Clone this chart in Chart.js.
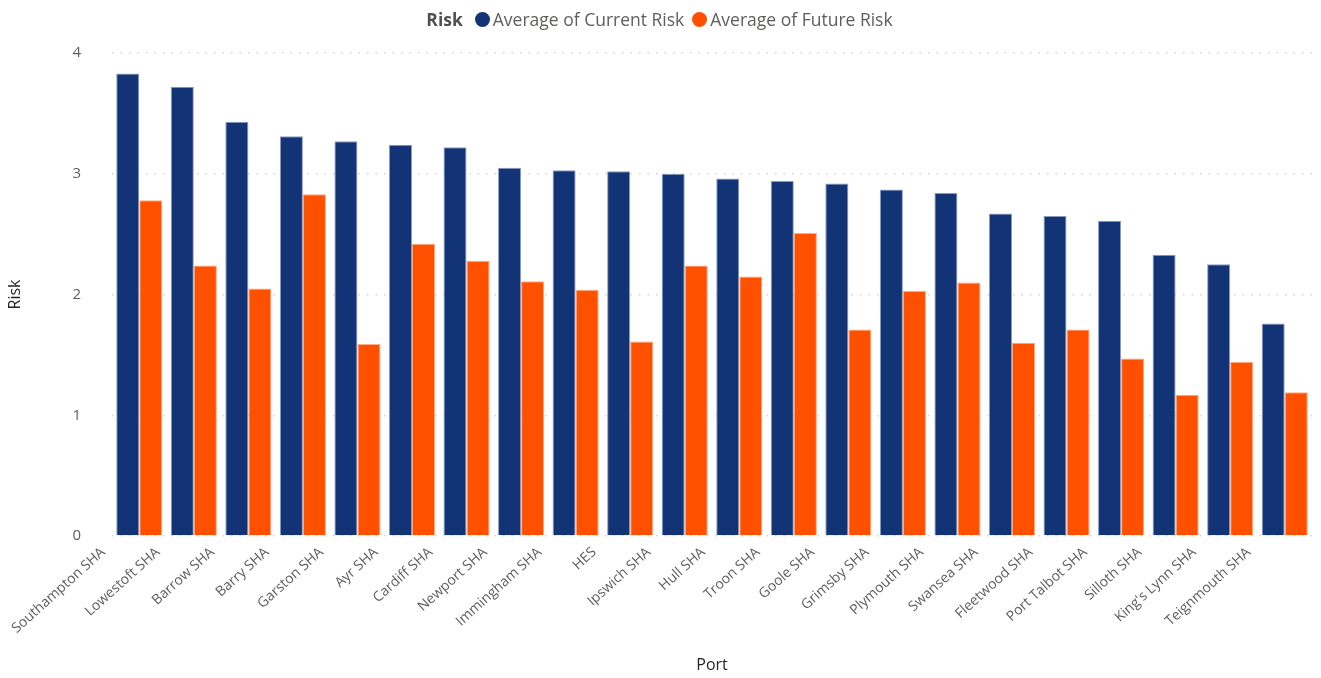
<!DOCTYPE html>
<html>
<head>
<meta charset="utf-8">
<script src="https://cdn.jsdelivr.net/npm/chart.js@4/dist/chart.umd.min.js"></script>
<style>
	html, body { margin: 0; padding: 0; background: #fff; }
	.wrap { position: relative; width: 1321px; height: 678px; }
	#legend-container {
		position: absolute; top: 7px; left: 6px; right: 0;
		display: flex; justify-content: center; align-items: center;
		font-family: 'Open Sans', sans-serif; font-size: 17.5px; color: #605E5C;
	}
	#legend-container .title { font-weight: 700; color: #505050; margin-right: 12px; }
	#legend-container ul { display: flex; margin: 0; padding: 0; list-style: none; }
	#legend-container li { display: flex; align-items: center; margin-right: 8px; }
	#legend-container li span { display: inline-block; width: 15px; height: 15px; border-radius: 50%; margin-right: 3px; }
</style>
</head>
<body>
<div class="wrap">
	<div id="legend-container"><div class="title">Risk</div><ul></ul></div>
	<canvas id="chart"></canvas>
</div>
<script>
/* Data */

const ports = [
	'Southampton SHA', 'Lowestoft SHA', 'Barrow SHA', 'Barry SHA', 'Garston SHA', 'Ayr SHA',
	'Cardiff SHA', 'Newport SHA', 'Immingham SHA', 'HES', 'Ipswich SHA', 'Hull SHA',
	'Troon SHA', 'Goole SHA', 'Grimsby SHA', 'Plymouth SHA', 'Swansea SHA', 'Fleetwood SHA',
	'Port Talbot SHA', 'Silloth SHA', "King's Lynn SHA", 'Teignmouth SHA',
];
const currentRisk = [3.83, 3.72, 3.43, 3.31, 3.27, 3.24, 3.22, 3.05, 3.03, 3.02, 3.00, 2.96, 2.94, 2.92, 2.87, 2.84, 2.67, 2.65, 2.61, 2.33, 2.25, 1.76];
const futureRisk = [2.78, 2.24, 2.05, 2.83, 1.59, 2.42, 2.28, 2.11, 2.04, 1.61, 2.24, 2.15, 2.51, 1.71, 2.03, 2.10, 1.60, 1.71, 1.47, 1.17, 1.44, 1.19];
const yTicks = [0, 1, 2, 3, 4];

/* Legend */

const htmlLegendPlugin = {
	id: 'htmlLegend',
	afterUpdate(chart) {
		const ul = document.querySelector('#legend-container ul');
		while (ul.firstChild) {
			ul.firstChild.remove();
		}
		chart.data.datasets.forEach(ds => {
			const li = document.createElement('li');
			const dot = document.createElement('span');
			dot.style.background = ds.backgroundColor;
			li.appendChild(dot);
			li.appendChild(document.createTextNode(ds.label));
			ul.appendChild(li);
		});
	}
};

/* Config */

const font = "'Open Sans', sans-serif";

const config = {
	type: 'bar',
	data: {
		labels: ports,
		datasets: [
			{
				label: 'Average of Current Risk',
				data: currentRisk,
				backgroundColor: '#123375',
				borderColor: '#8a9bc0',
				borderWidth: 1,
			},
			{
				label: 'Average of Future Risk',
				data: futureRisk,
				backgroundColor: '#FF5000',
				borderColor: '#ffa97f',
				borderWidth: 1,
			}
		],
	},
	options: {
		responsive: true,
		maintainAspectRatio: false,
		animation: false,
		layout: {
			padding: { top: 53, right: 9, left: 0, bottom: 0 },
		},
		datasets: {
			bar: { categoryPercentage: 0.845, barPercentage: 1.0 },
		},
		scales: {
			x: {
				grid: { display: false },
				border: { display: false },
				ticks: {
					color: '#605E5C',
					font: { size: 14, family: font },
					minRotation: 42,
					maxRotation: 42,
					autoSkip: false,
					labelOffset: -36,
					padding: 0,
				},
				title: {
					display: true,
					text: 'Port',
					color: '#252423',
					font: { size: 16, family: font },
					padding: { top: 4, bottom: 3 },
				},
				afterFit(scale) { scale.height = 142; },
			},
			y: {
				min: 0,
				max: 4,
				afterBuildTicks(scale) { scale.ticks = yTicks.map(v => ({ value: v })); },
				grid: {
					color: '#d4d4d4',
					lineWidth: 1.5,
					drawTicks: false,
				},
				border: { display: false, dash: [1.5, 7] },
				ticks: {
					color: '#605E5C',
					font: { size: 15, family: font },
					padding: 31,
				},
				title: {
					display: true,
					text: 'Risk',
					color: '#252423',
					font: { size: 16, family: font },
					padding: { top: 6, bottom: 0 },
				},
				afterFit(scale) { scale.width = 112; },
			},
		},
		plugins: {
			legend: { display: false },
			tooltip: { enabled: false },
		},
	},
	plugins: [htmlLegendPlugin],
};

new Chart(document.getElementById('chart'), config);
</script>
</body>
</html>
